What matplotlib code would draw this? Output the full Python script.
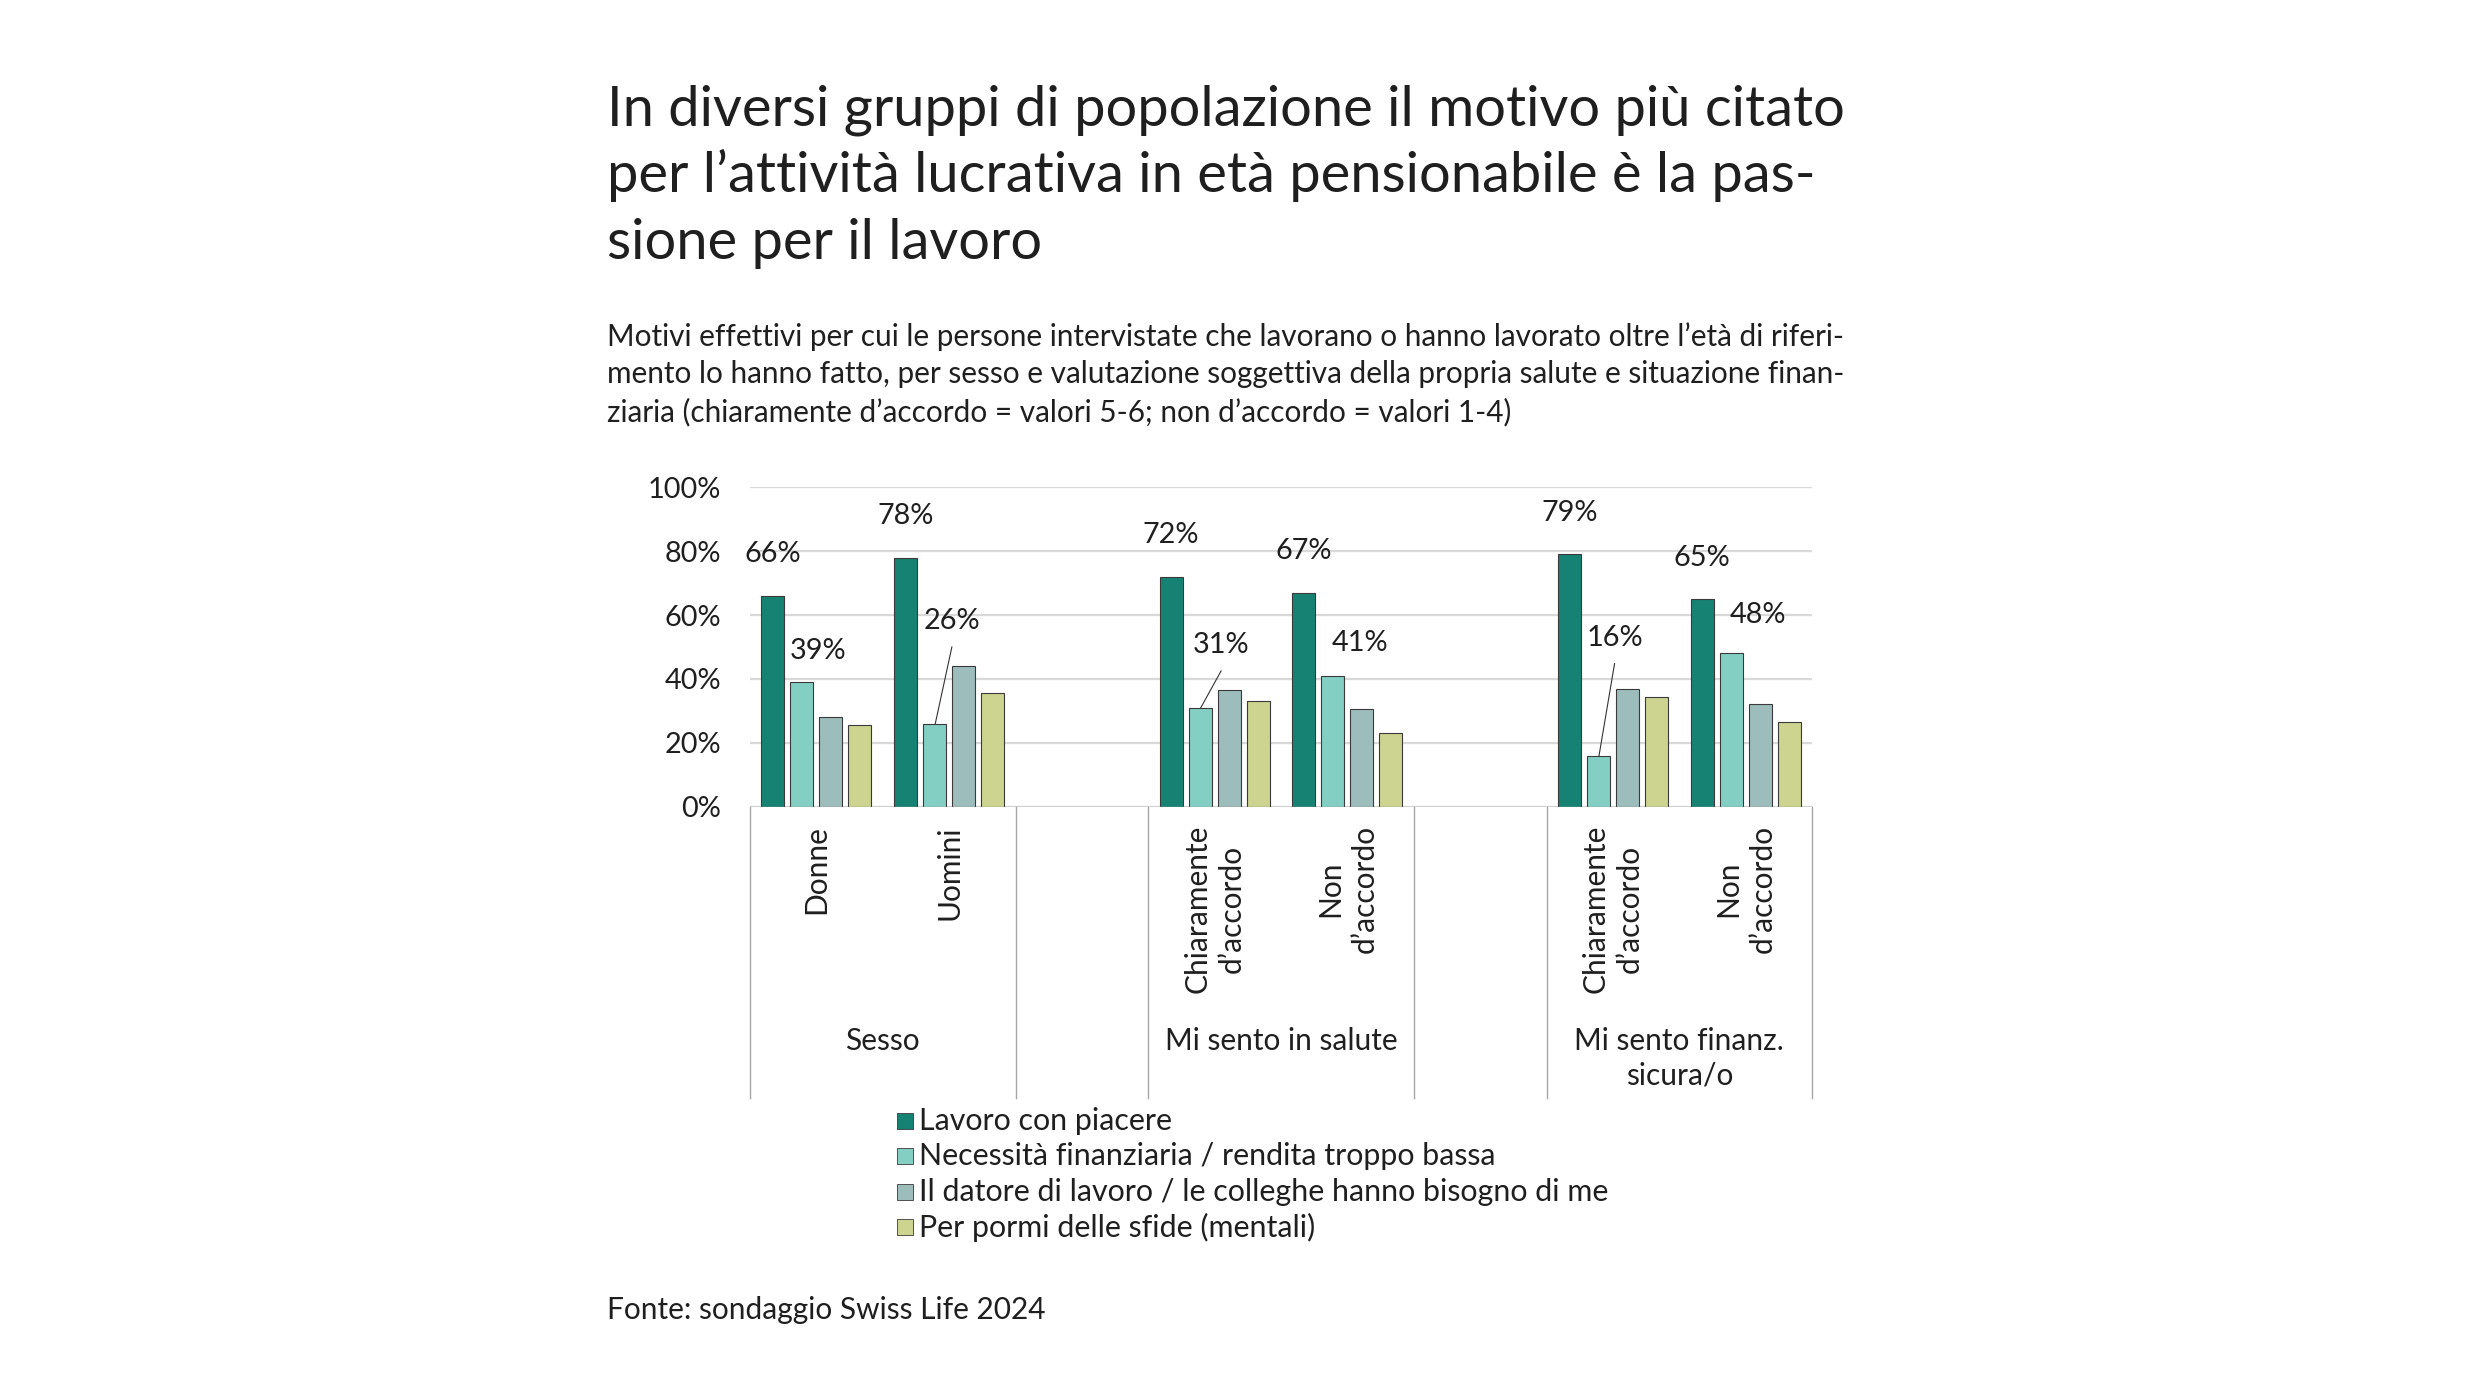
import matplotlib

matplotlib.use("Agg")

import matplotlib.pyplot as plt
import matplotlib.transforms as mtransforms
from matplotlib.patches import Rectangle

plt.rcParams["font.family"] = ["Lato", "DejaVu Sans"]

TITLE_LINES = [
    "In diversi gruppi di popolazione il motivo più citato",
    "per l’attività lucrativa in età pensionabile è la pas-",
    "sione per il lavoro",
]
SUBTITLE_LINES = [
    "Motivi effettivi per cui le persone intervistate che lavorano o hanno lavorato oltre l’età di riferi-",
    "mento lo hanno fatto, per sesso e valutazione soggettiva della propria salute e situazione finan-",
    "ziaria (chiaramente d’accordo = valori 5-6; non d’accordo = valori 1-4)",
]
SOURCE = "Fonte: sondaggio Swiss Life 2024"

GROUPS = ["Sesso", "Mi sento in salute", "Mi sento finanz.\nsicura/o"]
CATEGORIES = [
    ["Donne", "Uomini"],
    ["Chiaramente\nd’accordo", "Non\nd’accordo"],
    ["Chiaramente\nd’accordo", "Non\nd’accordo"],
]
SERIES = [
    "Lavoro con piacere",
    "Necessità finanziaria / rendita troppo bassa",
    "Il datore di lavoro / le colleghe hanno bisogno di me",
    "Per pormi delle sfide (mentali)",
]
LAVORO_PIACERE = [66, 78, 72, 67, 79, 65]
NECESSITA = [39, 26, 31, 41, 16, 48]
DATORE = [28, 44, 36.5, 30.5, 37, 32]
SFIDE = [25.5, 35.5, 33, 23, 34.5, 26.5]
VALUES = [LAVORO_PIACERE, NECESSITA, DATORE, SFIDE]
LABELLED = [True, True, False, False]

COLORS = ["#158274", "#84cfc4", "#9dbdbc", "#ccd48f"]
TEXT = "#1f1f1f"
LINE = "#a6a6a6"

# hand placed offsets of the second series labels (slot units / percent points)
LABEL2_DX = [0.124, 0.13, 0.158, 0.206, 0.122, 0.203]
LABEL2_DY = [9.6, 32, 19.5, 10.2, 36.8, 12.1]
LEADER = [False, True, True, False, True, False]

W, H = 2480, 1395
BAR_W = 0.173
BAR_STEP = 0.2186
FS = 21.5


def fx(px):
    return px / W


def fy(px):
    return 1 - px / H


fig = plt.figure(figsize=(W / 100, H / 100), dpi=100)
fig.patch.set_facecolor("white")

for i, line in enumerate(TITLE_LINES):
    fig.text(fx(607), fy(126 + 66.5 * i), line, fontsize=40.3, color=TEXT, va="baseline", ha="left")
for i, line in enumerate(SUBTITLE_LINES):
    fig.text(fx(607), fy(346 + 37.5 * i), line, fontsize=21.4, color=TEXT, va="baseline", ha="left")
fig.text(fx(607), fy(1319), SOURCE, fontsize=FS, color=TEXT, va="baseline", ha="left")

ax = fig.add_axes([fx(750), fy(806.7), fx(1812 - 750), (806.7 - 487.3) / H])

# slot positions: two categories per group, one empty slot between groups
xpos = []
for g in range(len(GROUPS)):
    for c in range(len(CATEGORIES[g])):
        xpos.append(g * 3 + c)

for s, vals in enumerate(VALUES):
    offs = (s - 1.5) * BAR_STEP
    xs = [x + offs for x in xpos]
    ax.bar(xs, vals, width=BAR_W, color=COLORS[s], edgecolor="#3a3a3a", linewidth=0.8, zorder=3, label=SERIES[s])
    if not LABELLED[s]:
        continue
    for i, (x, v) in enumerate(zip(xs, vals)):
        if s == 0:
            lx, ly = x, v + 13
        else:
            lx, ly = x + LABEL2_DX[i], v + LABEL2_DY[i]
            if LEADER[i]:
                ax.plot([lx, x + 0.005], [ly - 8, v], color="#333333", lw=0.8, zorder=4)
        ax.text(lx, ly, f"{v}%", ha="center", va="center", fontsize=20.8, color=TEXT, zorder=5)

ax.set_xlim(-0.5, 7.5)
ax.set_ylim(0, 100)
ax.set_yticks(range(0, 101, 20))
ax.set_yticklabels([f"{t}%" for t in range(0, 101, 20)])
ax.tick_params(axis="y", length=0, pad=21, labelsize=20.8, labelcolor=TEXT)
ax.set_xticks([])
for sp in ax.spines.values():
    sp.set_visible(False)
ax.yaxis.grid(True, color="#d9d9d9", linewidth=1.6, zorder=0)
ax.set_axisbelow(True)
ax.axhline(0, color=LINE, lw=1.0, zorder=4)

trans = mtransforms.blended_transform_factory(ax.transData, fig.transFigure)
for g in range(len(GROUPS)):
    left = g * 3 - 0.5
    right = g * 3 + len(CATEGORIES[g]) - 0.5
    for bx in (left, right):
        ax.plot([bx, bx], [fy(806.7), fy(1098)], transform=trans, color=LINE, lw=1.0, clip_on=False)
    for c, name in enumerate(CATEGORIES[g]):
        ax.text(g * 3 + c, fy(825), name, transform=trans, rotation=90, ha="center", va="top",
                multialignment="center", fontsize=FS, color=TEXT, linespacing=1.26)
    ax.text((left + right) / 2, fy(1027), GROUPS[g], transform=trans, ha="center", va="top",
            multialignment="center", fontsize=FS, color=TEXT, linespacing=1.27)

# legend drawn by hand to keep the tight row spacing
for s, name in enumerate(SERIES):
    yc = 1121 + 35.4 * s
    fig.patches.append(Rectangle((fx(897), fy(yc + 8)), fx(16), 16 / H, transform=fig.transFigure,
                                 facecolor=COLORS[s], edgecolor="#3a3a3a", linewidth=0.6))
    fig.text(fx(919), fy(yc), name, fontsize=21.9, color=TEXT, va="center", ha="left")

fig.savefig("out.png", dpi=100, facecolor="white")
